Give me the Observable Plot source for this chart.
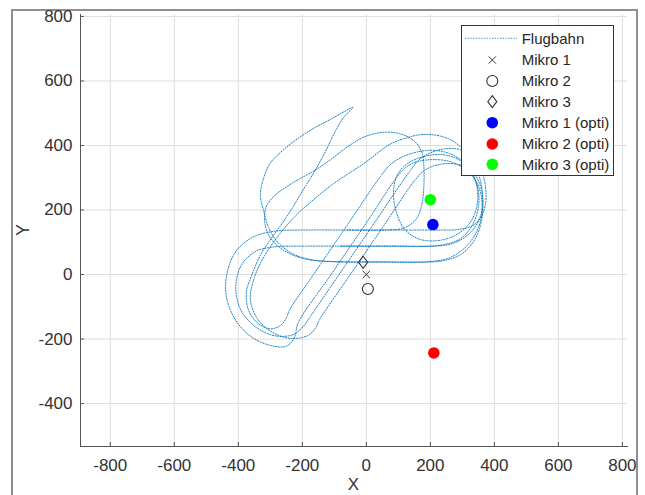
<!DOCTYPE html>
<html><head><meta charset="utf-8">
<script src="https://cdn.jsdelivr.net/npm/d3@7"></script>
<script src="https://cdn.jsdelivr.net/npm/@observablehq/plot@0.6"></script>
<style>
html,body{margin:0;padding:0;background:#fff;}
#wrap{position:relative;width:645px;height:495px;overflow:hidden;background:#fff;}
#frame{position:absolute;left:11px;top:9px;width:627px;height:600px;border:2px solid #8f8f8f;box-sizing:border-box;}
#chart{position:absolute;left:0;top:0;}
</style></head><body>
<div id="wrap"><div id="frame"></div><div id="chart"></div></div>
<script>
// ---- data ----
const xTicks = [-800, -600, -400, -200, 0, 200, 400, 600, 800];
const yTicks = [-400, -200, 0, 200, 400, 600, 800];

const mikroNames = ["Mikro 1", "Mikro 2", "Mikro 3"];
const mikroX = [0, 5, -10];
const mikroY = [0, -45, 38];

const optiNames = ["Mikro 1 (opti)", "Mikro 2 (opti)", "Mikro 3 (opti)"];
const optiX = [208, 211, 200];
const optiY = [155, -243, 232];
const optiColors = ["#0000ff", "#ff0000", "#00ff00"];

// flight path waypoints [X, Y] in flight order
const flugbahn = [
  [-60,138],[60,138],[120,145],[158,175],[175,225],[180,280],[180,332],[175,374],[154,410],[110,435],[55,441],[-8,426],[-60,395],[-112,356],[-159,324],[-232,283],[-284,247],[-310,216],[-318,184],
  [-314,145],[-297,110],[-255,73],[-190,48],[-100,40],[20,39],[140,39],[235,42],
  [295,62],[340,110],[362,180],[362,260],[345,325],[305,385],[263,418],[210,433],[165,433],[128,424],[76,405],[-8,344],[-102,282],[-165,232],[-225,178],[-275,120],[-318,58],[-350,-10],
  [-362,-80],[-338,-140],[-292,-180],[-235,-198],[-185,-190],[-160,-168],[-145,-138],
  [-50,0],[55,152],[150,290],
  [185,325],[240,343],[298,338],[342,305],[362,250],[358,185],[325,130],[275,98],[215,88],
  [100,88],[-60,88],[-200,88],[-285,86],
  [-345,72],[-390,30],[-408,-40],[-392,-110],[-345,-163],[-285,-190],[-228,-186],[-198,-162],[-175,-130],
  [-85,0],[30,167],[135,319],
  [170,360],[235,388],[300,385],[348,345],[372,275],[368,200],[338,155],[290,140],[230,138],
  [100,138],[-60,138],[-190,138],[-280,135],
  [-350,118],[-405,75],[-435,5],[-437,-70],[-408,-142],[-358,-194],[-298,-220],[-250,-222],[-225,-196],[-213,-150],
  [-110,0],[0,160],[110,319],
  [145,345],[200,356],[262,350],[315,322],[350,275],[362,210],[350,145],[315,90],[260,52],[185,39],
  [60,39],[-60,39],[-160,44],[-225,62],[-275,98],[-305,145],[-320,195],[-331,247],[-321,298],[-300,345],[-255,390],[-180,444],[-110,482],[-42,518],
  [-70,488],[-97,444],[-128,381],[-159,324],[-201,257],[-232,205],[-262,160],[-295,115],[-330,62],[-357,0],
  [-375,-55],[-368,-110],[-340,-150],[-300,-168],[-268,-158],[-250,-135],
  [-240,-110],[-165,0],[-55,160],[45,305],
  [80,345],[140,375],[210,385],[272,370],[318,332],[345,275],[345,210],[320,155],[275,120],[220,105],[165,110],[120,140],[95,190],[85,250],[95,305],[130,345],[190,368],[250,370],[305,345],[340,295],[352,230],[335,160],[295,112],[240,92],[180,88],
  [60,88],[-80,88]
];

// ---- tables built from the arrays ----
const mikro = mikroNames.map((n, i) => ({name: n, x: mikroX[i], y: mikroY[i]}));
const opti = optiNames.map((n, i) => ({name: n, x: optiX[i], y: optiY[i], c: optiColors[i]}));

const symTimes = {draw(ctx, size) { const r = Math.sqrt(size / Math.PI);
  ctx.moveTo(-r, -r); ctx.lineTo(r, r); ctx.moveTo(-r, r); ctx.lineTo(r, -r); }};
const symDiamond = {draw(ctx, size) { const r = Math.sqrt(size / Math.PI);
  ctx.moveTo(0, -r); ctx.lineTo(0.75 * r, 0); ctx.lineTo(0, r); ctx.lineTo(-0.75 * r, 0); ctx.closePath(); }};

const FONT = "'Liberation Sans', Arial, Helvetica, sans-serif";
const lineBlue = "#0072BD";
const dash = "1.2,1.5";

const plot = Plot.plot({
  width: 645, height: 495,
  marginLeft: 80, marginRight: 18, marginTop: 14, marginBottom: 49,
  x: {domain: [-893, 816]},
  y: {domain: [-533, 806]},
  color: {type: "identity"},
  style: {fontFamily: FONT, fontSize: "17px", color: "#333", background: "transparent", overflow: "visible"},
  marks: [
    Plot.gridX(xTicks, {stroke: "#dedede", strokeOpacity: 1}),
    Plot.gridY(yTicks, {stroke: "#dedede", strokeOpacity: 1}),
    Plot.line(flugbahn, {x: d => d[0], y: d => d[1], curve: "catmull-rom", stroke: lineBlue, strokeWidth: 0.9, strokeDasharray: dash}),
    Plot.dot(mikro.filter(d => d.name === "Mikro 1"), {x: "x", y: "y", symbol: symTimes, r: 3.6, stroke: "#333", strokeWidth: 1}),
    Plot.dot(mikro.filter(d => d.name === "Mikro 2"), {x: "x", y: "y", symbol: "circle", r: 5.5, stroke: "#333", fill: "none", strokeWidth: 1.1}),
    Plot.dot(mikro.filter(d => d.name === "Mikro 3"), {x: "x", y: "y", symbol: symDiamond, r: 6, stroke: "#333", fill: "none", strokeWidth: 1.1}),
    Plot.dot(opti, {x: "x", y: "y", r: 5.8, fill: "c", stroke: "none"}),
    Plot.frame({anchor: "left", stroke: "#555"}),
    Plot.frame({anchor: "bottom", stroke: "#555"}),
    Plot.axisX(xTicks, {tickSize: -4, tickPadding: 16, tickFormat: d => String(d), label: null, stroke: "#555", fill: "#333"}),
    Plot.axisY(yTicks, {tickSize: -4, tickPadding: 12, tickFormat: d => String(d), label: null, stroke: "#555", fill: "#333"})
  ]
});
document.getElementById("chart").appendChild(plot);

// axis titles
const svg = d3.select(plot);
svg.append("text").attr("x", 353.5).attr("y", 490).attr("text-anchor", "middle")
  .attr("font-family", FONT).attr("font-size", 17).attr("fill", "#333").text("X");
svg.append("text").attr("transform", "translate(29,230) rotate(-90)").attr("text-anchor", "middle")
  .attr("font-family", FONT).attr("font-size", 18).attr("fill", "#333").text("Y");

// legend (inside the axes, top right)
const lg = svg.append("g").attr("font-family", FONT).attr("font-size", 15).attr("fill", "#262626").attr("text-anchor", "start");
lg.append("rect").attr("x", 461.5).attr("y", 25.5).attr("width", 152).attr("height", 150)
  .attr("fill", "#fff").attr("stroke", "#333").attr("stroke-width", 1);
const rowY = [38.3, 60, 81, 101.7, 122.7, 144, 164.3];
const names = ["Flugbahn", ...mikroNames, ...optiNames];
const sx = 492.3;
lg.append("line").attr("x1", 465).attr("x2", 517).attr("y1", rowY[0]).attr("y2", rowY[0])
  .attr("stroke", lineBlue).attr("stroke-width", 0.9).attr("stroke-dasharray", dash);
function symPath(sym, r) { const p = d3.path(); sym.draw(p, r * r * Math.PI); return p.toString(); }
lg.append("path").attr("transform", `translate(${sx},${rowY[1]})`).attr("d", symPath(symTimes, 3.6)).attr("stroke", "#333").attr("fill", "none");
lg.append("circle").attr("cx", sx).attr("cy", rowY[2]).attr("r", 5.5).attr("stroke", "#333").attr("stroke-width", 1.1).attr("fill", "none");
lg.append("path").attr("transform", `translate(${sx},${rowY[3]})`).attr("d", symPath(symDiamond, 6)).attr("stroke", "#333").attr("stroke-width", 1.1).attr("fill", "none");
optiColors.forEach((c, i) => lg.append("circle").attr("cx", sx).attr("cy", rowY[4 + i]).attr("r", 5.8).attr("fill", c));
names.forEach((n, i) => lg.append("text").attr("x", 521.7).attr("y", rowY[i]).attr("dy", "0.35em").attr("text-anchor", "start").text(n));
</script>
</body></html>
